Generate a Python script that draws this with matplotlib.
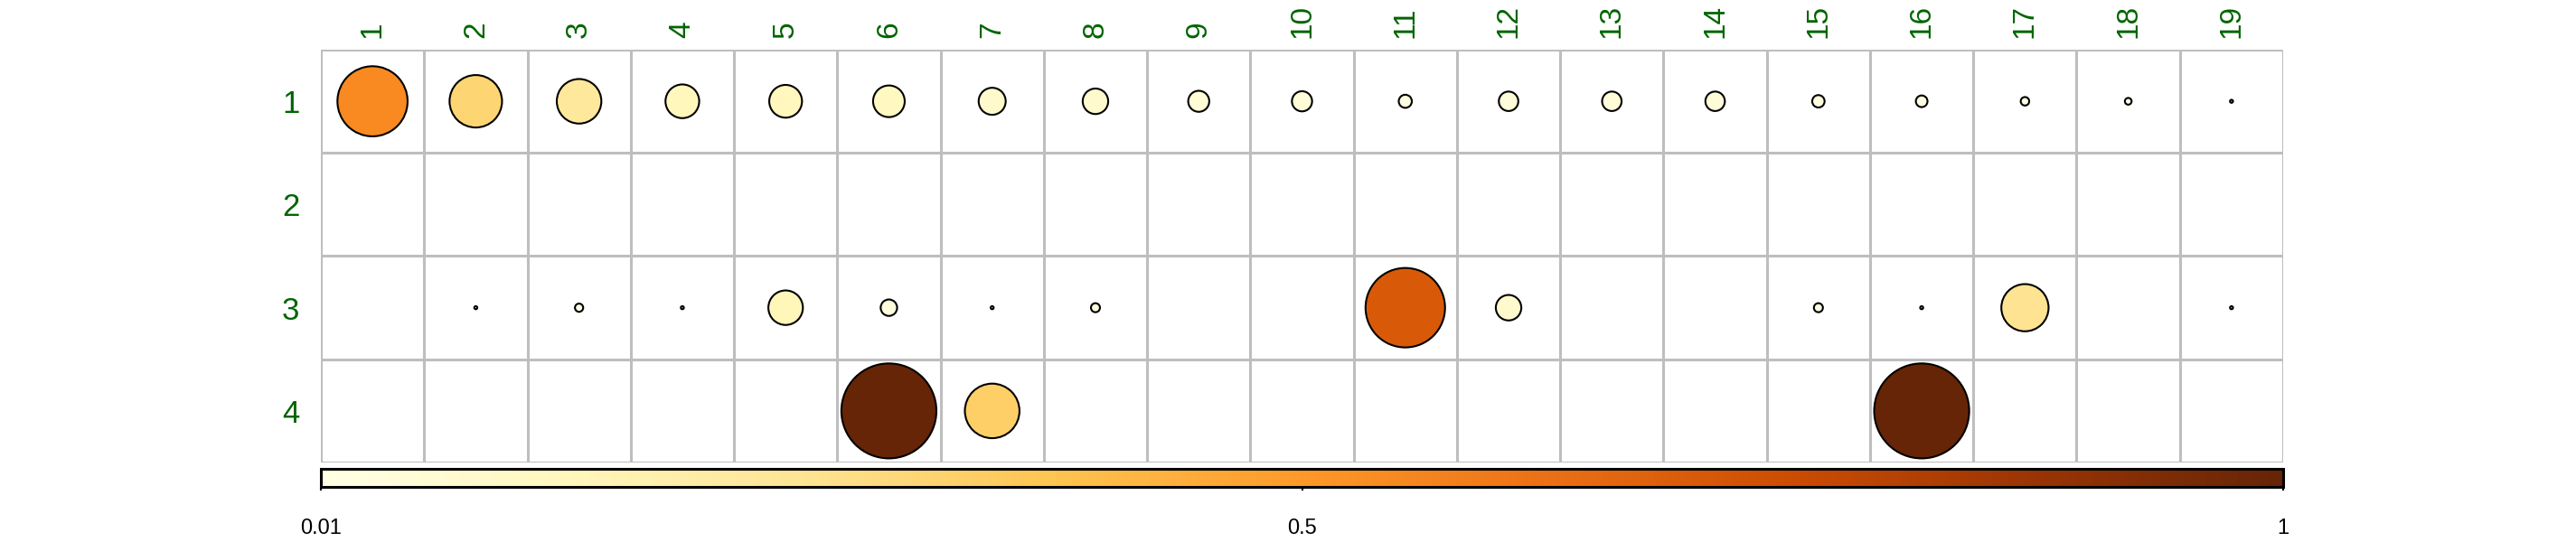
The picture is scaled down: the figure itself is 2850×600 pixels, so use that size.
import numpy as np
import matplotlib
matplotlib.use("Agg")
import matplotlib.pyplot as plt
from matplotlib.patches import Circle
from matplotlib.cm import ScalarMappable
from matplotlib.colors import Normalize

plt.rcParams['font.family'] = ['Liberation Sans', 'DejaVu Sans']

# data (NaN = empty cell)
col_labels = [str(i) for i in range(1, 20)]
row_labels = ['1', '2', '3', '4']
nan = np.nan
row1 = [0.545, 0.305, 0.22, 0.126, 0.119, 0.111, 0.081, 0.072, 0.049, 0.045,
        0.019, 0.042, 0.042, 0.042, 0.017, 0.015, 0.008, 0.005, 0.001]
row2 = [nan] * 19
row3 = [nan, 0.001, 0.0075, 0.001, 0.132, 0.03, 0.001, 0.009, nan, nan,
        0.70, 0.072, nan, nan, 0.009, 0.001, 0.247, nan, 0.001]
row4 = [nan, nan, nan, nan, nan, 1.0, 0.33, nan, nan, nan,
        nan, nan, nan, nan, nan, 1.0, nan, nan, nan]
cbar_ticks = [0, 0.5, 1]
cbar_labels = ['0.01', '0.5', '1']

values = np.array([row1, row2, row3, row4])
cmap = plt.get_cmap('YlOrBr')
norm = Normalize(0, 1)
green = '#006400'
grid_col = '#BEBEBE'

fig = plt.figure(figsize=(28.5, 6), dpi=100)
ax = fig.add_axes([355 / 2850, 88 / 600, 2171 / 2850, 457 / 600])

nrow, ncol = values.shape
ax.set_xlim(0.5, ncol + 0.5)
ax.set_ylim(nrow + 0.5, 0.5)

# grid
for x in np.arange(0.5, ncol + 1):
    ax.axvline(x, color=grid_col, lw=2.2, zorder=1)
for y in np.arange(0.5, nrow + 1):
    ax.axhline(y, color=grid_col, lw=2.2, zorder=1)
for s in ax.spines.values():
    s.set_visible(False)

# circles, area proportional to value
for i in range(nrow):
    for j in range(ncol):
        v = values[i, j]
        if np.isnan(v):
            continue
        r = 0.46 * np.sqrt(v)
        ax.add_patch(Circle((j + 1, i + 1), r, facecolor=cmap(norm(v)),
                            edgecolor='black', lw=1.5, zorder=3))

ax.set_xticks(range(1, ncol + 1))
ax.set_xticklabels(col_labels, rotation=90, color=green, fontsize=24)
ax.xaxis.tick_top()
ax.set_yticks(range(1, nrow + 1))
ax.set_yticklabels(row_labels, color=green, fontsize=25)
ax.tick_params(axis='x', length=0, pad=9)
ax.tick_params(axis='y', length=0, pad=17)

# colour bar
cax = fig.add_axes([355 / 2850, 61 / 600, 2171 / 2850, 20 / 600])
sm = ScalarMappable(norm=norm, cmap=cmap)
cb = fig.colorbar(sm, cax=cax, orientation='horizontal')
cb.set_ticks(cbar_ticks)
cb.set_ticklabels(cbar_labels)
cb.outline.set_linewidth(2.2)
cax.tick_params(labelsize=17, length=3, width=1.5, pad=22)

fig.savefig('out.png', dpi=100)
